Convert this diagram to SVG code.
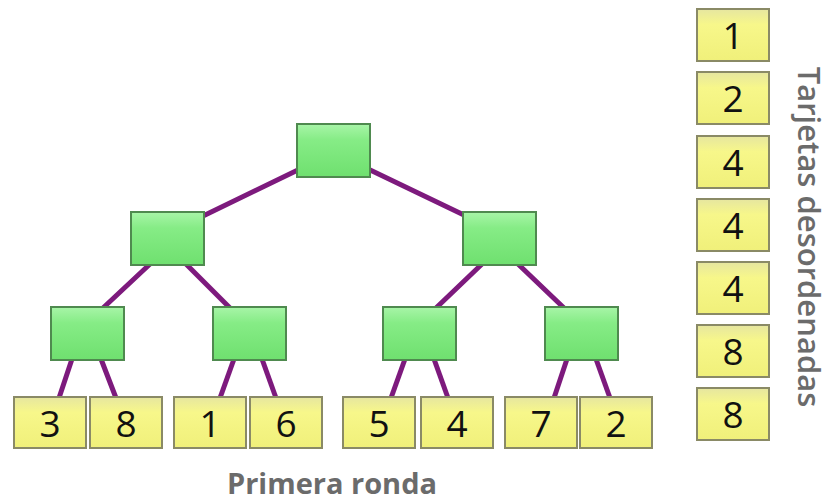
<svg xmlns="http://www.w3.org/2000/svg" width="830" height="502" viewBox="0 0 830 502">
<defs>
<linearGradient id="gg" x1="0" y1="0" x2="0" y2="1">
<stop offset="0" stop-color="#a8f5a8"/><stop offset="0.3" stop-color="#86ec86"/><stop offset="1" stop-color="#6fe06f"/>
</linearGradient>
<linearGradient id="yg" x1="0" y1="0" x2="0" y2="1">
<stop offset="0" stop-color="#e6e6a0"/><stop offset="0.3" stop-color="#f7f78a"/><stop offset="1" stop-color="#f0f07a"/>
</linearGradient>
</defs>
<style>
.g{fill:url(#gg);stroke:#4f8a4f;stroke-width:2}
.y{fill:url(#yg);stroke:#8a8a66;stroke-width:2}
.n{font-family:"Open Sans","Liberation Sans",sans-serif;font-size:37px;fill:#111;text-anchor:middle}
.e{stroke:#7d1a7d;stroke-width:5;stroke-linecap:round;fill:none}
.lab{font-family:"Open Sans","Liberation Sans",sans-serif;fill:#6b6b6b}
</style>
<rect width="830" height="502" fill="#fff"/>
<g id="connectors">
<line class="e" x1="302" y1="168" x2="203" y2="216"/>
<line class="e" x1="366" y1="168" x2="466" y2="216"/>
<line class="e" x1="150" y1="264" x2="103" y2="308"/>
<line class="e" x1="186" y1="264" x2="230" y2="308"/>
<line class="e" x1="482" y1="264" x2="436" y2="308"/>
<line class="e" x1="518" y1="264" x2="564" y2="308"/>
<line class="e" x1="72" y1="359" x2="59" y2="398"/>
<line class="e" x1="101" y1="359" x2="116" y2="398"/>
<line class="e" x1="234" y1="359" x2="220" y2="398"/>
<line class="e" x1="262" y1="359" x2="276" y2="398"/>
<line class="e" x1="405" y1="359" x2="391" y2="398"/>
<line class="e" x1="434" y1="359" x2="448" y2="398"/>
<line class="e" x1="567" y1="359" x2="554" y2="398"/>
<line class="e" x1="596" y1="359" x2="610" y2="398"/>
</g>
<g id="root"><rect class="g" x="297" y="124" width="73" height="53"/></g>
<g id="l2a"><rect class="g" x="131" y="212" width="73" height="53"/></g>
<g id="l2b"><rect class="g" x="463" y="212" width="73" height="53"/></g>
<g id="l3a"><rect class="g" x="51" y="307" width="73" height="53"/></g>
<g id="l3b"><rect class="g" x="213" y="307" width="73" height="53"/></g>
<g id="l3c"><rect class="g" x="383" y="307" width="73" height="53"/></g>
<g id="l3d"><rect class="g" x="545" y="307" width="73" height="53"/></g>
<g id="leaf1"><rect class="y" x="14" y="397" width="72" height="51"/><text class="n" x="50" y="437">3</text></g>
<g id="leaf2"><rect class="y" x="90" y="397" width="72" height="51"/><text class="n" x="126" y="437">8</text></g>
<g id="leaf3"><rect class="y" x="174" y="397" width="72" height="51"/><text class="n" x="210" y="437">1</text></g>
<g id="leaf4"><rect class="y" x="250" y="397" width="72" height="51"/><text class="n" x="286" y="437">6</text></g>
<g id="leaf5"><rect class="y" x="343" y="397" width="72" height="51"/><text class="n" x="379" y="437">5</text></g>
<g id="leaf6"><rect class="y" x="421" y="397" width="72" height="51"/><text class="n" x="457" y="437">4</text></g>
<g id="leaf7"><rect class="y" x="505" y="397" width="72" height="51"/><text class="n" x="541" y="437">7</text></g>
<g id="leaf8"><rect class="y" x="580" y="397" width="72" height="51"/><text class="n" x="616" y="437">2</text></g>
<g id="c1"><rect class="y" x="697" y="9" width="72" height="52"/><text class="n" x="733" y="49">1</text></g>
<g id="c2"><rect class="y" x="697" y="72" width="72" height="52"/><text class="n" x="733" y="112">2</text></g>
<g id="c3"><rect class="y" x="697" y="136" width="72" height="52"/><text class="n" x="733" y="176">4</text></g>
<g id="c4"><rect class="y" x="697" y="199" width="72" height="52"/><text class="n" x="733" y="239">4</text></g>
<g id="c5"><rect class="y" x="697" y="262" width="72" height="52"/><text class="n" x="733" y="302">4</text></g>
<g id="c6"><rect class="y" x="697" y="325" width="72" height="52"/><text class="n" x="733" y="365">8</text></g>
<g id="c7"><rect class="y" x="697" y="388" width="72" height="52"/><text class="n" x="733" y="428">8</text></g>
<text class="lab" transform="translate(798,237) rotate(90)" text-anchor="middle" font-size="31" font-weight="600">Tarjetas desordenadas</text>
<text class="lab" x="332" y="494" text-anchor="middle" font-size="29" font-weight="bold">Primera ronda</text>
</svg>
